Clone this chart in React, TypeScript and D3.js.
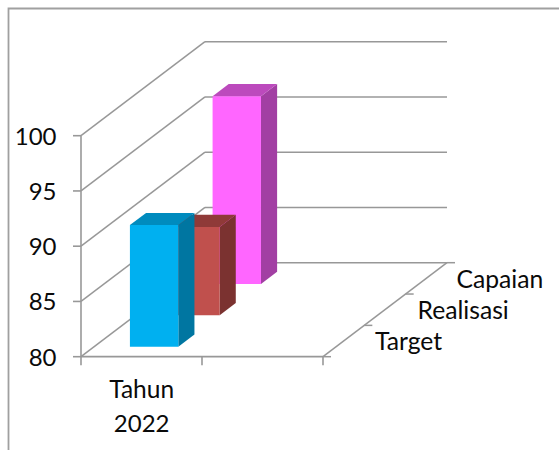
import React from "react";
import * as d3 from "d3";

const yTicks = [80, 85, 90, 95, 100];
const categories = ["Tahun 2022"];
const seriesNames = ["Target", "Realisasi", "Capaian"];
const seriesValues = [91, 88, 97];
const faceColors = ["#00B0F0", "#C0504D", "#FF66FF"];
const sideColors = ["#0076A1", "#7B3230", "#A23FA3"];
const topColors = ["#008BBE", "#8F3A38", "#BC4ABD"];

const width = 559;
const height = 450;
const y = d3.scaleLinear().domain([80, 100]).range([356.7, 135.7]);
const x = d3.scaleLinear().domain([0, 2]).range([81, 323]);
const depthX = d3.scaleLinear().domain([0, 3]).range([0, 124]);
const depthY = d3.scaleLinear().domain([0, 3]).range([0, -94]);

const pt = (u: number, v: number, d: number): [number, number] => [
  x(u) + depthX(d),
  y(v) + depthY(d),
];
const poly = (pts: [number, number][]) => (d3.line()(pts) ?? "") + "Z";
const seg = (a: [number, number], b: [number, number]) => d3.line()([a, b]) ?? "";

const GRID = "#989898";
const FONT = "Lato, Carlito, Calibri, sans-serif";
const TEXT = "#0a0a0a";

const barStart = 0.295;
const barEnd = 0.695;
const depthStart = 0.32;
const barDepth = 0.39;

export default function App() {
  const order = seriesValues.map((_, i) => i).reverse();
  const catLines = categories[0].split(" ");
  return (
    <svg
      width={width}
      height={height}
      viewBox={`0 0 ${width} ${height}`}
      style={{ position: "fixed", left: 0, top: 0, background: "#fff" }}
    >
      <path d="M8.5 450V8.5H559" fill="none" stroke="#A0A0A0" strokeWidth={1.8} />

      {yTicks.map((t) => (
        <g key={t}>
          <path d={seg([x(0) - 8, y(t)], pt(0, t, 0))} stroke={GRID} strokeWidth={1.6} fill="none" />
          <path d={seg(pt(0, t, 0), pt(0, t, 3))} stroke={GRID} strokeWidth={1.5} fill="none" />
          <path d={seg(pt(0, t, 3), pt(2, t, 3))} stroke={GRID} strokeWidth={1.5} fill="none" />
          <text x={56.5} y={y(t) + 9} textAnchor="end" fontFamily={FONT} fontSize={24} fill={TEXT}>
            {t}
          </text>
        </g>
      ))}
      <path d={seg(pt(0, 100, 0), pt(0, 80, 0))} stroke={GRID} strokeWidth={1.6} fill="none" />
      <path d={seg(pt(0, 80, 0), pt(2, 80, 0))} stroke={GRID} strokeWidth={1.7} fill="none" />
      <path d={seg(pt(2, 80, 0), pt(2, 80, 3))} stroke={GRID} strokeWidth={1.5} fill="none" />
      {[0, 1, 2].map((u) => (
        <path key={u} d={seg(pt(u, 80, 0), [x(u), y(80) + 8.5])} stroke={GRID} strokeWidth={1.6} fill="none" />
      ))}
      {[0, 1, 2, 3].map((d) => {
        const p = pt(2, 80, d);
        return <path key={d} d={seg(p, [p[0] + 8, p[1]])} stroke={GRID} strokeWidth={1.5} fill="none" />;
      })}

      {order.map((i) => {
        const v = seriesValues[i];
        const d0 = i + depthStart;
        const d1 = d0 + barDepth;
        return (
          <g key={seriesNames[i]}>
            <path
              d={poly([pt(barEnd, 80, d0), pt(barEnd, 80, d1), pt(barEnd, v, d1), pt(barEnd, v, d0)])}
              fill={sideColors[i]}
            />
            <path
              d={poly([pt(barStart, v, d0), pt(barEnd, v, d0), pt(barEnd, v, d1), pt(barStart, v, d1)])}
              fill={topColors[i]}
            />
            <path
              d={poly([pt(barStart, 80, d0), pt(barEnd, 80, d0), pt(barEnd, v, d0), pt(barStart, v, d0)])}
              fill={faceColors[i]}
            />
          </g>
        );
      })}

      <text textAnchor="middle" fontFamily={FONT} fontSize={24.5} fill={TEXT}>
        <tspan x={141.7} y={398}>{catLines[0]}</tspan>
        <tspan x={141.7} y={431.7} fontSize={24}>{catLines[1]}</tspan>
      </text>
      {seriesNames.map((s, i) => (
        <text
          key={s}
          x={[375, 417.5, 456.5][i]}
          y={[350, 319, 287.7][i]}
          fontFamily={FONT}
          fontSize={24.7}
          fill={TEXT}
        >
          {s}
        </text>
      ))}
    </svg>
  );
}
